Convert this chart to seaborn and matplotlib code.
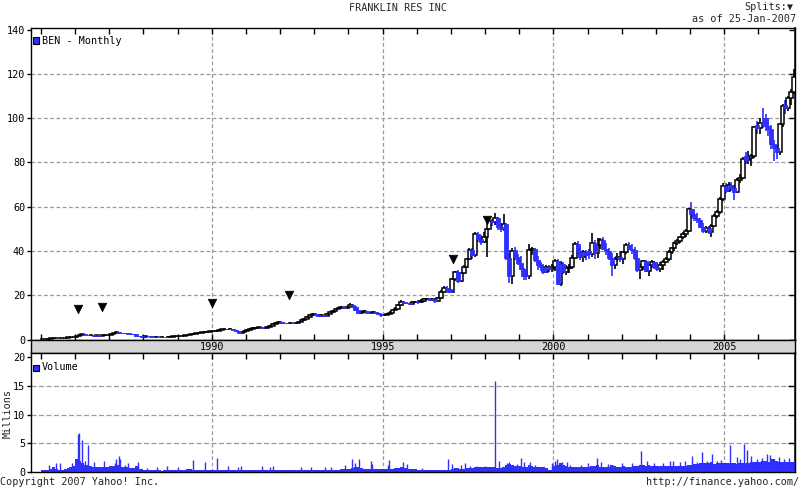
import numpy as np
import pandas as pd
import matplotlib
matplotlib.use("Agg")
import matplotlib.pyplot as plt
from matplotlib.patches import Rectangle
import seaborn as sns

# ---------------- data ----------------
start_year = 1985  # first monthly candle: Jan 1985, last: Jan 2007

opens = [
    0.30, 0.35, 0.40, 0.45, 0.50, 0.55, 0.60, 0.65, 0.72, 0.80, 0.95, 1.10,
    1.30, 1.60, 2.00, 2.40, 2.20, 1.90, 2.00, 1.80, 1.90, 1.70, 1.90, 2.00,
    2.10, 2.60, 3.00, 3.30, 3.10, 3.00, 2.80, 2.70, 2.60, 2.40, 1.60, 1.50,
    1.40, 1.50, 1.45, 1.40, 1.35, 1.40, 1.30, 1.35, 1.30, 1.35, 1.40, 1.45,
    1.50, 1.60, 1.70, 1.90, 2.10, 2.40, 2.60, 2.90, 3.20, 3.30, 3.50, 3.60,
    3.80, 3.90, 4.10, 4.40, 4.60, 4.80, 4.70, 4.90, 4.30, 3.70, 3.20, 3.40,
    3.90, 4.50, 5.00, 5.20, 5.40, 5.50, 5.30, 5.40, 5.60, 6.20, 7.20, 7.50,
    7.80, 7.60, 7.40, 7.30, 7.50, 7.40, 7.60, 8.00, 8.80, 9.40, 10.40, 11.00,
    11.40, 11.20, 10.60, 11.00, 10.80, 11.60, 12.50, 13.00, 13.80, 14.40, 14.60, 14.20,
    14.80, 15.60, 14.80, 13.20, 12.00, 12.40, 12.80, 12.20, 12.00, 12.30, 12.00, 11.40,
    11.20, 11.20, 11.60, 12.20, 13.40, 14.00, 15.50, 17.20, 16.60, 16.40, 16.20, 16.80,
    17.20, 17.00, 17.60, 18.20, 18.40, 18.00, 18.40, 17.60, 18.80, 21.50, 23.50, 22.80,
    21.70, 27.20, 30.50, 26.50, 30.00, 32.80, 36.50, 40.50, 38.00, 47.50, 45.50, 44.20,
    46.50, 50.00, 53.50, 53.00, 55.00, 51.00, 50.00, 52.00, 37.00, 28.50, 40.50, 37.50,
    34.50, 32.00, 29.00, 28.50, 40.50, 40.80, 36.00, 33.50, 33.00, 30.60, 32.90, 31.80,
    33.00, 35.50, 25.00, 34.00, 30.50, 32.50, 33.00, 37.00, 43.00, 39.50, 37.50, 39.50,
    40.00, 38.50, 43.50, 39.00, 42.50, 45.00, 41.00, 40.00, 37.00, 33.50, 36.50, 37.50,
    36.50, 39.50, 42.50, 41.00, 40.50, 37.00, 31.50, 33.00, 35.50, 31.00, 33.50, 35.00,
    33.00, 32.00, 33.50, 35.00, 36.50, 39.50, 41.50, 43.50, 44.50, 46.50, 47.50, 49.00,
    59.00, 56.50, 55.00, 54.00, 51.00, 49.00, 50.50, 48.50, 51.50, 56.00, 57.50, 63.50,
    69.50, 67.00, 70.00, 68.50, 66.50, 72.00, 73.00, 83.00, 81.00, 82.00, 83.00, 97.00,
    95.50, 98.00, 100.00, 96.50, 95.00, 88.50, 86.50, 84.50, 97.50, 106.00, 104.50, 109.00,
    112.00,
]
highs = [
    0.40, 0.45, 0.50, 0.55, 0.60, 0.65, 0.72, 0.78, 0.85, 1.00, 1.20, 1.40,
    1.70, 2.10, 2.60, 2.50, 2.30, 2.10, 2.10, 2.00, 1.95, 2.00, 2.10, 2.20,
    2.70, 3.10, 3.60, 3.40, 3.20, 3.10, 2.90, 2.80, 2.70, 2.50, 1.70, 1.60,
    1.60, 1.60, 1.55, 1.50, 1.50, 1.45, 1.45, 1.40, 1.45, 1.50, 1.55, 1.60,
    1.70, 1.80, 2.00, 2.20, 2.50, 2.80, 3.00, 3.40, 3.50, 3.70, 3.80, 4.00,
    4.10, 4.30, 4.60, 4.80, 5.00, 5.00, 5.10, 5.00, 4.40, 3.80, 3.60, 4.10,
    4.70, 5.20, 5.50, 5.60, 5.80, 5.60, 5.70, 5.90, 6.50, 7.50, 7.90, 8.20,
    8.10, 7.90, 7.70, 7.80, 7.80, 7.90, 8.30, 9.20, 9.80, 10.80, 11.50, 11.90,
    11.90, 11.50, 11.40, 11.30, 11.90, 12.80, 13.40, 14.20, 14.90, 15.20, 14.90, 15.30,
    16.40, 16.00, 15.20, 13.50, 12.90, 13.30, 13.00, 12.60, 12.80, 12.60, 12.30, 11.80,
    11.70, 12.00, 12.70, 13.80, 14.50, 16.00, 17.90, 17.60, 17.20, 17.00, 17.40, 17.60,
    17.80, 18.20, 18.80, 19.00, 18.90, 19.00, 18.70, 19.30, 22.40, 24.20, 24.00, 23.20,
    27.80, 31.20, 31.40, 30.50, 33.50, 37.00, 41.20, 41.50, 48.50, 48.50, 47.20, 48.70,
    50.50, 54.50, 54.50, 57.00, 55.50, 52.50, 56.50, 52.50, 38.50, 41.20, 42.00, 38.50,
    37.70, 32.50, 31.50, 43.00, 42.00, 41.20, 37.70, 35.00, 34.00, 33.50, 33.50, 34.00,
    36.50, 36.50, 35.50, 35.00, 33.50, 34.00, 38.00, 44.00, 44.50, 41.50, 40.50, 40.50,
    41.00, 48.00, 45.00, 46.00, 46.00, 46.50, 43.50, 41.50, 39.00, 37.50, 39.00, 40.00,
    40.00, 43.50, 44.00, 43.00, 42.00, 38.00, 34.00, 36.00, 36.00, 34.00, 36.00, 35.50,
    34.50, 35.00, 36.00, 37.50, 40.50, 42.00, 44.00, 45.50, 47.00, 48.50, 50.00, 59.50,
    62.00, 58.00, 57.00, 55.00, 52.50, 51.50, 51.50, 52.00, 56.50, 58.50, 64.50, 70.50,
    70.50, 71.00, 71.00, 70.00, 73.00, 75.00, 82.50, 84.50, 85.00, 84.00, 96.50, 98.50,
    100.00, 104.50, 102.00, 100.00, 97.00, 90.00, 88.00, 98.00, 106.50, 108.00, 110.00, 113.00,
    122.00,
]
lows = [
    0.28, 0.33, 0.38, 0.43, 0.48, 0.53, 0.58, 0.63, 0.70, 0.78, 0.92, 1.05,
    1.25, 1.55, 1.90, 2.10, 1.80, 1.80, 1.70, 1.75, 1.60, 1.65, 1.85, 1.95,
    2.00, 2.50, 2.90, 3.00, 2.90, 2.70, 2.60, 2.50, 2.30, 1.30, 1.40, 1.30,
    1.30, 1.40, 1.35, 1.30, 1.30, 1.25, 1.25, 1.25, 1.25, 1.30, 1.35, 1.40,
    1.45, 1.55, 1.65, 1.85, 2.05, 2.30, 2.50, 2.80, 3.10, 3.20, 3.40, 3.50,
    3.60, 3.80, 4.00, 4.30, 4.50, 4.50, 4.60, 4.20, 3.50, 2.90, 3.00, 3.30,
    3.80, 4.40, 4.90, 5.00, 5.20, 5.10, 5.10, 5.30, 5.50, 6.00, 7.00, 7.30,
    7.30, 7.20, 7.00, 7.10, 7.10, 7.20, 7.40, 7.80, 8.60, 9.20, 10.20, 10.80,
    10.80, 10.30, 10.40, 10.50, 10.60, 11.40, 12.20, 12.80, 13.60, 14.00, 13.80, 14.00,
    14.50, 14.40, 12.80, 11.40, 11.70, 12.10, 11.80, 11.60, 11.80, 11.60, 10.90, 10.40,
    10.70, 10.90, 11.40, 12.00, 13.20, 13.80, 15.20, 16.20, 15.90, 15.80, 15.80, 16.40,
    16.20, 16.70, 17.20, 17.70, 17.60, 17.70, 16.60, 17.00, 18.50, 21.20, 22.40, 21.30,
    21.40, 26.50, 25.50, 26.00, 29.50, 32.50, 35.80, 36.20, 37.50, 44.00, 42.50, 43.50,
    37.40, 49.50, 51.50, 51.80, 49.50, 48.50, 49.00, 36.00, 25.40, 25.20, 36.00, 33.50,
    31.40, 26.90, 27.00, 27.50, 38.00, 35.20, 31.40, 31.00, 29.50, 30.00, 30.50, 30.70,
    31.00, 24.50, 24.00, 29.50, 29.00, 30.00, 32.00, 36.50, 38.50, 36.00, 35.00, 36.00,
    36.50, 37.50, 36.50, 37.00, 41.00, 40.50, 38.00, 36.00, 28.50, 32.00, 35.50, 35.00,
    34.00, 38.50, 40.50, 38.50, 36.00, 30.50, 27.50, 31.50, 30.50, 28.50, 32.50, 32.00,
    31.00, 30.50, 31.50, 34.50, 35.50, 38.50, 40.00, 42.50, 43.50, 45.50, 46.50, 48.50,
    55.00, 53.50, 52.50, 50.50, 48.00, 48.00, 47.50, 46.50, 51.00, 55.00, 56.50, 62.50,
    66.00, 66.50, 67.00, 63.00, 66.00, 70.50, 72.50, 79.50, 79.50, 78.50, 82.00, 93.00,
    93.00, 95.50, 94.00, 92.00, 86.00, 80.50, 81.50, 83.50, 96.00, 102.00, 103.00, 106.00,
    111.00,
]
closes = [
    0.35, 0.40, 0.45, 0.50, 0.55, 0.60, 0.65, 0.72, 0.80, 0.95, 1.10, 1.30,
    1.60, 2.00, 2.40, 2.20, 1.90, 2.00, 1.80, 1.90, 1.70, 1.90, 2.00, 2.10,
    2.60, 3.00, 3.30, 3.10, 3.00, 2.80, 2.70, 2.60, 2.40, 1.60, 1.50, 1.40,
    1.50, 1.45, 1.40, 1.35, 1.40, 1.30, 1.35, 1.30, 1.35, 1.40, 1.45, 1.50,
    1.60, 1.70, 1.90, 2.10, 2.40, 2.60, 2.90, 3.20, 3.30, 3.50, 3.60, 3.80,
    3.90, 4.10, 4.40, 4.60, 4.80, 4.70, 4.90, 4.30, 3.70, 3.20, 3.40, 3.90,
    4.50, 5.00, 5.20, 5.40, 5.50, 5.30, 5.40, 5.60, 6.20, 7.20, 7.50, 7.80,
    7.60, 7.40, 7.30, 7.50, 7.40, 7.60, 8.00, 8.80, 9.40, 10.40, 11.00, 11.40,
    11.20, 10.60, 11.00, 10.80, 11.60, 12.50, 13.00, 13.80, 14.40, 14.60, 14.20, 14.80,
    15.60, 14.80, 13.20, 12.00, 12.40, 12.80, 12.20, 12.00, 12.30, 12.00, 11.40, 11.20,
    11.20, 11.60, 12.20, 13.40, 14.00, 15.50, 17.20, 16.60, 16.40, 16.20, 16.80, 17.20,
    17.00, 17.60, 18.20, 18.40, 18.00, 18.40, 17.60, 18.80, 21.50, 23.50, 22.80, 21.70,
    27.20, 30.50, 26.50, 30.00, 32.80, 36.50, 40.50, 38.00, 47.50, 45.50, 44.20, 46.50,
    50.00, 53.50, 53.00, 55.00, 51.00, 50.00, 52.00, 37.00, 28.50, 40.00, 37.50, 34.50,
    32.00, 28.50, 28.50, 40.50, 40.80, 36.00, 33.50, 33.00, 30.60, 32.90, 31.80, 33.00,
    35.50, 25.00, 34.00, 30.50, 32.50, 33.00, 37.00, 43.00, 39.50, 37.50, 39.50, 38.00,
    38.50, 43.50, 39.00, 42.50, 45.00, 41.00, 40.00, 37.00, 33.50, 36.50, 37.50, 36.50,
    39.50, 42.50, 41.00, 40.50, 37.00, 31.50, 33.00, 35.50, 31.00, 33.50, 35.00, 33.00,
    32.00, 33.50, 35.00, 36.50, 39.50, 41.50, 43.50, 44.50, 46.50, 47.50, 49.00, 59.00,
    56.50, 55.00, 54.00, 51.00, 49.00, 50.50, 48.50, 51.50, 56.00, 57.50, 63.50, 69.50,
    67.00, 70.00, 68.50, 66.50, 72.00, 73.00, 81.50, 81.00, 82.00, 83.00, 96.00, 95.50,
    98.00, 97.00, 96.50, 95.00, 88.50, 86.50, 84.50, 97.50, 105.50, 104.50, 109.00, 112.00,
    118.50,
]

# monthly volume level (millions of shares)
volume_base = [
    0.3, 0.3, 0.4, 0.6, 0.8, 0.5, 0.3, 0.3, 0.5, 0.7, 0.9, 1.1,
    2.2, 2.0, 1.6, 1.3, 1.2, 1.0, 0.9, 0.9, 0.8, 0.8, 0.9, 0.8,
    1.0, 1.1, 1.3, 1.2, 0.9, 0.8, 0.8, 0.7, 0.7, 1.0, 0.6, 0.5,
    0.4, 0.4, 0.3, 0.3, 0.3, 0.3, 0.25, 0.3, 0.3, 0.3, 0.3, 0.3,
    0.3, 0.35, 0.4, 0.5, 0.5, 0.4, 0.4, 0.4, 0.4, 0.4, 0.3, 0.3,
    0.35, 0.35, 0.3, 0.3, 0.3, 0.3, 0.3, 0.3, 0.3, 0.4, 0.3, 0.3,
    0.3, 0.35, 0.35, 0.3, 0.3, 0.3, 0.3, 0.3, 0.3, 0.35, 0.3, 0.3,
    0.3, 0.3, 0.3, 0.35, 0.3, 0.3, 0.3, 0.3, 0.3, 0.35, 0.35, 0.3,
    0.3, 0.3, 0.35, 0.35, 0.3, 0.3, 0.35, 0.4, 0.4, 0.45, 0.5, 0.5,
    0.6, 0.7, 0.8, 0.8, 0.7, 0.6, 0.6, 0.6, 0.6, 0.6, 0.6, 0.6,
    0.6, 0.6, 0.6, 0.6, 0.7, 0.7, 0.8, 0.7, 0.7, 0.6, 0.6, 0.5,
    0.4, 0.3, 0.3, 0.3, 0.3, 0.35, 0.3, 0.3, 0.3, 0.35, 0.4, 0.4,
    0.6, 0.7, 0.7, 0.6, 0.6, 0.7, 0.7, 0.7, 0.8, 0.9, 0.8, 0.8,
    0.8, 0.8, 0.8, 0.8, 0.7, 0.7, 0.8, 1.2, 1.4, 1.3, 1.1, 1.0,
    1.0, 0.9, 0.9, 1.2, 1.0, 0.9, 0.9, 0.8, 0.9, 0.7, 0.4, 0.4,
    1.0, 1.2, 1.5, 1.2, 1.0, 0.9, 0.8, 0.9, 0.9, 0.9, 0.8, 0.9,
    0.9, 1.0, 1.1, 1.2, 0.9, 0.8, 0.8, 0.9, 1.2, 1.0, 0.9, 0.9,
    1.0, 0.9, 0.9, 0.9, 1.0, 1.1, 1.3, 1.2, 1.1, 1.2, 1.0, 1.0,
    1.0, 1.0, 1.1, 1.0, 1.0, 1.1, 1.0, 1.0, 1.0, 1.1, 1.1, 1.2,
    1.3, 1.4, 1.4, 1.5, 1.5, 1.6, 1.6, 1.7, 1.4, 1.5, 1.5, 1.6,
    1.6, 1.6, 1.5, 1.5, 1.4, 1.5, 1.6, 1.5, 1.6, 1.7, 1.8, 1.8,
    1.8, 1.9, 1.9, 1.8, 2.2, 2.3, 2.0, 1.8, 1.7, 1.7, 1.8, 1.7,
    1.8,
]
# individual high-volume sessions (date as decimal year, millions)
spike_dates = [
    1985.25, 1985.45, 1985.55, 1985.92, 1986.08, 1986.11, 1986.20, 1986.28,
    1986.37, 1986.55, 1986.85, 1987.17, 1987.20, 1987.28, 1987.32, 1987.45,
    1987.55, 1987.85, 1988.10, 1988.40, 1988.70, 1989.00, 1989.45, 1989.80,
    1990.15, 1990.48, 1990.77, 1990.85, 1991.47, 1991.70, 1991.80, 1992.60,
    1992.90, 1993.30, 1993.50, 1993.90, 1994.10, 1994.20, 1994.30, 1994.65,
    1994.70, 1995.15, 1995.20, 1995.60, 1995.70, 1996.14, 1996.90, 1997.03,
    1997.30, 1997.40, 1997.56, 1997.75, 1998.00, 1998.29, 1998.40, 1998.64,
    1998.70, 1998.93, 1999.05, 1999.15, 1999.30, 1999.45, 1999.95, 2000.05,
    2000.10, 2000.25, 2000.40, 2000.50, 2000.80, 2001.00, 2001.27, 2001.40,
    2001.60, 2001.75, 2002.00, 2002.30, 2002.56, 2002.75, 2002.95, 2003.20,
    2003.40, 2003.50, 2003.70, 2003.85, 2004.05, 2004.20, 2004.35, 2004.50,
    2004.63, 2004.78, 2004.90, 2005.17, 2005.37, 2005.45, 2005.59, 2005.68,
    2005.78, 2005.95, 2006.10, 2006.25, 2006.33, 2006.45, 2006.60, 2006.75,
    2006.90, 2007.02,
]
spike_volumes = [
    1.3, 1.5, 1.5, 1.5, 6.6, 6.8, 5.6, 1.9,
    4.7, 1.75, 2.0, 1.6, 2.2, 2.8, 2.2, 1.3,
    1.5, 1.8, 0.7, 0.8, 1.0, 0.8, 2.1, 1.75,
    2.45, 1.0, 0.9, 1.0, 1.0, 0.9, 1.0, 0.9,
    0.8, 0.8, 0.8, 1.2, 2.2, 1.5, 2.2, 1.9,
    1.4, 1.2, 2.1, 1.8, 1.4, 0.7, 2.2, 1.4,
    1.2, 1.5, 1.1, 1.0, 1.0, 15.8, 2.0, 1.6,
    1.7, 1.4, 2.4, 1.8, 1.8, 1.3, 1.6, 1.9,
    2.2, 1.8, 1.8, 1.2, 1.3, 1.5, 2.5, 1.7,
    1.4, 1.3, 1.5, 1.5, 3.7, 1.9, 1.5, 1.6,
    2.0, 1.9, 1.8, 2.0, 2.8, 1.8, 3.4, 2.0,
    3.1, 2.0, 2.1, 4.7, 2.6, 2.2, 4.9, 3.9,
    2.7, 2.3, 2.4, 3.2, 3.0, 2.3, 2.6, 2.2,
    2.4, 1.8,
]

split_dates = [1986.08, 1986.80, 1990.01, 1992.27, 1997.05, 1998.05]
split_marks = [13.6, 14.5, 16.7, 20.2, 36.4, 54.0]

year_labels = [1990, 1995, 2000, 2005]
price_ticks = [0, 20, 40, 60, 80, 100, 120, 140]
volume_ticks = [0, 5, 10, 15, 20]

# ---------------- style ----------------
sns.set_theme(style="white")
plt.rcParams["font.family"] = ["DejaVu Sans Mono", "DejaVu Sans"]
FS = 7.3
BLUE = "#2f2fff"
GRID = "#9a9a9a"

n = len(closes)
t = start_year + (np.arange(n) + 0.5) / 12.0
df = pd.DataFrame({"t": t, "open": opens, "high": highs, "low": lows,
                   "close": closes, "volume": volume_base})
df["up"] = df["close"] >= df["open"]

W, H = 800, 488
fig = plt.figure(figsize=(W / 100, H / 100), dpi=100)
fig.patch.set_facecolor("white")


def fx(px):
    return px / W


def fy(py):
    return 1 - py / H


X0, X1 = 1984.70, 2007.08
L, R = 30.7, 795.3
ax = fig.add_axes([fx(L), fy(340), fx(R - L), (340 - 28) / H])
axs = fig.add_axes([fx(L), fy(353), fx(R - L), (353 - 340) / H])
axv = fig.add_axes([fx(L), fy(472), fx(R - L), (472 - 353) / H])

for a in (ax, axs, axv):
    a.set_xlim(X0, X1)
    a.set_facecolor("white")
    for s in a.spines.values():
        s.set_color("black")
        s.set_linewidth(1.0)
        s.set_visible(True)

# ---- price panel ----
ax.set_ylim(-0.18, 140.7)
for yv in price_ticks[1:-1]:
    ax.axhline(yv, color=GRID, lw=0.9, ls=(0, (3, 2)), zorder=0)
for yr in year_labels:
    ax.axvline(yr, color=GRID, lw=0.9, ls=(0, (3, 2)), zorder=0)
    axv.axvline(yr, color=GRID, lw=0.9, ls=(0, (3, 2)), zorder=0)

up = df[df["up"]]
dn = df[~df["up"]]
ax.vlines(up["t"], up["low"], up["high"], color="black", lw=1.2, zorder=2)
ax.vlines(dn["t"], dn["low"], dn["high"], color=BLUE, lw=1.2, zorder=2)
ax.bar(up["t"], (up["close"] - up["open"]).clip(lower=0.05), bottom=up["open"], width=0.11,
       facecolor="white", edgecolor="black", lw=1.1, zorder=3)
ax.bar(dn["t"], dn["close"] - dn["open"], bottom=dn["open"], width=0.12,
       facecolor=BLUE, edgecolor=BLUE, lw=0.6, zorder=4)

sns.scatterplot(x=split_dates, y=split_marks, ax=ax, marker="v", s=38,
                color="black", edgecolor="black", linewidth=0.5, zorder=5, legend=False)

ax.set_yticks(price_ticks)
ax.set_yticklabels([str(v) for v in price_ticks], fontsize=FS)
ax.tick_params(axis="y", which="both", left=True, right=False, direction="out",
               length=3, width=1, pad=1, colors="black", labelcolor="black")
ax.set_xticks(np.arange(1985, 2007))
ax.tick_params(axis="x", top=True, bottom=True, direction="in", length=4,
               width=1, labelbottom=False, labeltop=False, colors="black")
ax.set_xlabel("")
ax.set_ylabel("")
axr = ax.secondary_yaxis("right")
axr.set_yticks(price_ticks)
axr.tick_params(direction="in", length=4, width=1, labelright=False, colors="black")

# legend
ax.add_patch(Rectangle(((33 - L) / (R - L), 1 - (43.5 - 28) / 312), 6 / (R - L), 6 / 312,
                       transform=ax.transAxes, facecolor=BLUE, edgecolor="black", lw=0.8,
                       zorder=6, clip_on=False))
ax.text((42 - L) / (R - L), 1 - (41 - 28) / 312, "BEN - Monthly", transform=ax.transAxes,
        fontsize=FS, va="center", ha="left", color="black")

# ---- date strip ----
axs.set_facecolor("#d4d4d4")
axs.set_ylim(0, 1)
axs.set_yticks([])
axs.set_xticks([])
for yr in year_labels:
    axs.text(yr, 0.5, str(yr), ha="center", va="center", fontsize=FS, color="black")
axs.set_xlabel("")

# ---- volume panel ----
axv.set_ylim(0, 20.7)
for yv in volume_ticks[1:-1]:
    axv.axhline(yv, color=GRID, lw=0.9, ls=(0, (4, 2)), zorder=0)
sns.histplot(data=df, x="t", weights="volume", binwidth=1 / 12.0,
             binrange=(start_year, start_year + n / 12.0), ax=axv, color=BLUE,
             element="bars", fill=True, alpha=1.0, linewidth=0, zorder=2, legend=False)
axv.vlines(spike_dates, 0, spike_volumes, color=BLUE, lw=1.0, zorder=3)
axv.set_xlabel("")
axv.set_ylabel("")
axv.set_xlim(X0, X1)
axv.set_ylim(0, 20.7)
axv.set_yticks(volume_ticks)
axv.set_yticklabels([str(v) for v in volume_ticks], fontsize=FS)
axv.tick_params(axis="y", left=True, right=False, direction="out", length=3, width=1,
                pad=1, colors="black")
axv.set_xticks(np.arange(1985, 2007))
axv.tick_params(axis="x", top=True, bottom=False, direction="in", length=4, width=1,
                labelbottom=False, colors="black")
axvr = axv.secondary_yaxis("right")
axvr.set_yticks(volume_ticks[1:-1])
axvr.tick_params(direction="in", length=5, width=1, labelright=False, colors="black")

axv.add_patch(Rectangle(((33 - L) / (R - L), 1 - (370.5 - 353) / 119), 6 / (R - L), 6 / 119,
                        transform=axv.transAxes, facecolor=BLUE, edgecolor="black", lw=0.8,
                        zorder=6, clip_on=False))
axv.text((42 - L) / (R - L), 1 - (367 - 353) / 119, "Volume", transform=axv.transAxes,
         fontsize=FS, va="center", ha="left", color="black")

# ---- figure texts ----
fig.text(fx(398), fy(8), "FRANKLIN RES INC", ha="center", va="center", fontsize=FS)
fig.text(fx(793), fy(7), "Splits:\u25BC", ha="right", va="center", fontsize=FS)
fig.text(fx(796), fy(19), "as of 25-Jan-2007", ha="right", va="center", fontsize=FS)
fig.text(fx(0), fy(482), "Copyright 2007 Yahoo! Inc.", ha="left", va="center", fontsize=FS)
fig.text(fx(799), fy(482), "http://finance.yahoo.com/", ha="right", va="center", fontsize=FS)
fig.text(fx(8), fy(413), "Millions", ha="center", va="center", rotation=90, fontsize=FS)

fig.savefig("out.png", dpi=100, facecolor="white")
